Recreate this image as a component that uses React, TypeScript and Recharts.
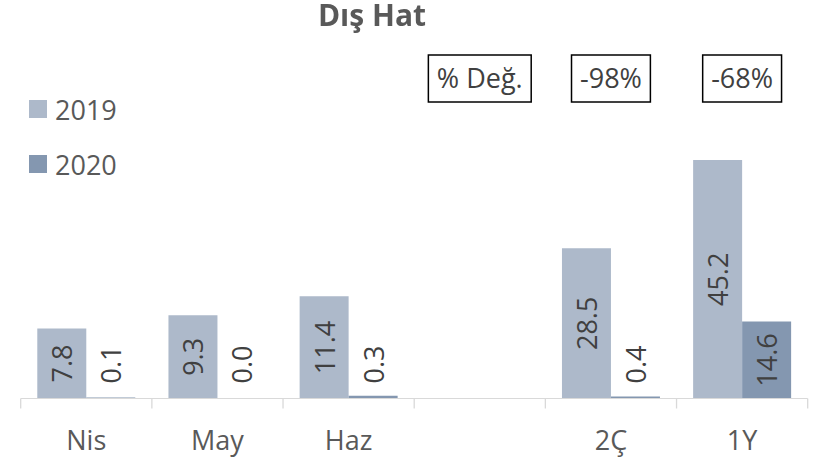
import React from "react";
import { BarChart, Bar, XAxis, YAxis, Legend, LabelList } from "recharts";

const categories = ["Nis", "May", "Haz", "", "2Ç", "1Y"];
const month2019 = [7.8, 9.3, 11.4, null, null, null];
const month2020 = [0.1, 0.0, 0.3, null, null, null];
const period2019 = [null, null, null, null, 28.5, 45.2];
const period2020 = [null, null, null, null, 0.4, 14.6];
const changeLabels = ["", "", "", "% Değ.", "-98%", "-68%"];

const C2019 = "#adb9ca";
const C2020 = "#8497b0";
const AXIS = "#d9d9d9";
const FONT = "'Open Sans', sans-serif";
const W = 813, H = 462;
const ML = 20.7, MR = 5.3;
const BAND = (W - ML - MR) / categories.length;

const data = categories.map((cat, i) => ({
  cat,
  m19: month2019[i],
  m20: month2020[i],
  p19: period2019[i],
  p20: period2020[i],
}));

let ctx: CanvasRenderingContext2D | null = null;
function textWidth(t: string, size = 27) {
  if (!ctx) ctx = document.createElement("canvas").getContext("2d");
  if (!ctx) return t.length * size * 0.57;
  ctx.font = `${size}px 'Open Sans'`;
  return ctx.measureText(t).width;
}

// value labels run vertically; tiny bars get them above the bar
function BarValue(props: any) {
  const { x, y, width, height, value } = props;
  if (value == null) return null;
  const txt = Number(value).toFixed(1);
  const len = textWidth(txt);
  const cx = x + width / 2;
  const cy = height > len + 10 ? y + height / 2 : y + height - 15 - len / 2;
  return (
    <text x={cx} y={cy} transform={`rotate(-90 ${cx} ${cy})`} textAnchor="middle"
          dominantBaseline="central" fontSize={27} fontFamily={FONT} fill="#404040">
      {txt}
    </text>
  );
}

// category label plus Excel-style tick marks between categories
function CatTick({ x, y, payload, index }: any) {
  const last = index === categories.length - 1;
  return (
    <g>
      <line x1={x - BAND / 2} x2={x - BAND / 2} y1={y} y2={y + 10} stroke={AXIS} strokeWidth={1.3} />
      {last && <line x1={x + BAND / 2} x2={x + BAND / 2} y1={y} y2={y + 10} stroke={AXIS} strokeWidth={1.3} />}
      <text x={x} y={y + 51.5} textAnchor="middle" fontSize={27} fontFamily={FONT} fill="#595959">
        {payload.value}
      </text>
    </g>
  );
}

function ChangeTick({ x, y, index }: any) {
  const label = changeLabels[index];
  if (!label) return null;
  const w = textWidth(label) + 17;
  return (
    <g>
      <rect x={x - w / 2} y={y + 3} width={w} height={47} fill="#fff" stroke="#000" strokeWidth={1.5} />
      <text x={x} y={y + 36} textAnchor="middle" fontSize={27} fontFamily={FONT} fill="#404040">
        {label}
      </text>
    </g>
  );
}

function LegendBox({ payload }: any) {
  const seen = new Set<string>();
  const items = (payload || []).filter((p: any) => {
    if (seen.has(p.value)) return false;
    seen.add(p.value);
    return true;
  });
  return (
    <div>
      {items.map((p: any) => (
        <div key={p.value} style={{ display: "flex", alignItems: "center", height: 55 }}>
          <span style={{ width: 18, height: 18, background: p.color, marginRight: 8 }} />
          <span style={{ fontFamily: FONT, fontSize: 27, color: "#595959" }}>{p.value}</span>
        </div>
      ))}
    </div>
  );
}

export default function App() {
  return (
    <div style={{ position: "fixed", left: 0, top: 0, width: W, height: H, background: "#fff" }}>
      <div style={{
        position: "absolute", left: 0, top: 0, width: 744, textAlign: "center", zIndex: 1,
        fontFamily: FONT, fontWeight: 700, fontSize: 30, lineHeight: "30px", color: "#595959",
      }}>
        Dış Hat
      </div>
      <BarChart width={W} height={H} data={data}
                margin={{ top: 0, right: MR, bottom: 0, left: ML }}
                barCategoryGap="12.65%" barGap={0}>
        <XAxis xAxisId="m" dataKey="cat" height={63.5} stroke={AXIS} tickLine={false}
               tickSize={0} tickMargin={0} interval={0} tick={<CatTick />} />
        <XAxis xAxisId="a" dataKey="cat" orientation="top" height={60} axisLine={false}
               tickLine={false} interval={0} tick={<ChangeTick />} />
        <YAxis yAxisId="m" hide domain={[0, 37.78]} allowDataOverflow />
        <YAxis yAxisId="a" hide domain={[0, 64.17]} allowDataOverflow />
        <Legend content={<LegendBox />} layout="vertical" align="center" verticalAlign="middle"
                wrapperStyle={{ left: 29, top: 81.5, width: 200 }} />
        <Bar xAxisId="m" yAxisId="m" dataKey="m19" name="2019" fill={C2019} isAnimationActive={false}>
          <LabelList dataKey="m19" content={<BarValue />} />
        </Bar>
        <Bar xAxisId="m" yAxisId="m" dataKey="m20" name="2020" fill={C2020} minPointSize={0.5} isAnimationActive={false}>
          <LabelList dataKey="m20" content={<BarValue />} />
        </Bar>
        <Bar xAxisId="a" yAxisId="a" dataKey="p19" name="2019" legendType="none" fill={C2019} isAnimationActive={false}>
          <LabelList dataKey="p19" content={<BarValue />} />
        </Bar>
        <Bar xAxisId="a" yAxisId="a" dataKey="p20" name="2020" legendType="none" fill={C2020} isAnimationActive={false}>
          <LabelList dataKey="p20" content={<BarValue />} />
        </Bar>
      </BarChart>
    </div>
  );
}
